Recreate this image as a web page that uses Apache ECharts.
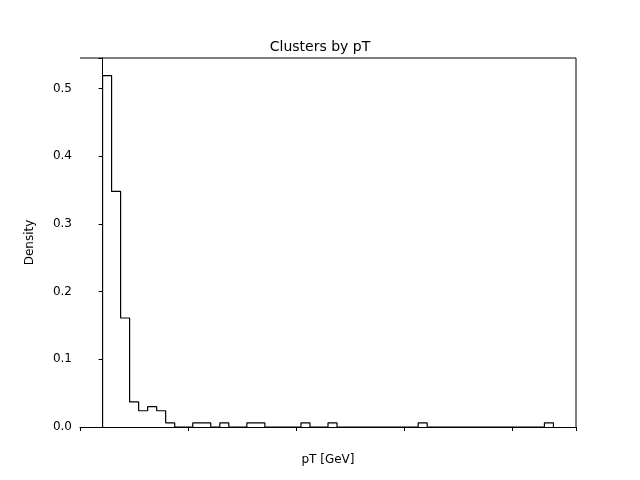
<!DOCTYPE html>
<html><head><meta charset="utf-8">
<script src="https://cdn.jsdelivr.net/npm/echarts@6/dist/echarts.min.js"></script>
<style>body{margin:0}#c{width:640px;height:480px}</style></head>
<body><div id="c"></div>
<script>
const binStart = 0;
const binWidth = 0.835;
const densities = [0.519,0.348,0.161,0.037,0.024,0.030,0.024,0.006,0,0,
0.006,0.006,0,0.006,0,0,0.006,0.006,0,0,
0,0,0.006,0,0,0.006,0,0,0,0,
0,0,0,0,0,0.006,0,0,0,0,
0,0,0,0,0,0,0,0,0,0.006];
const xTicks = [0,10,20,30,40];
const yTicks = [0,0.1,0.2,0.3,0.4,0.5];

const pts = [[binStart,0]];
densities.forEach((h,i)=>{
  pts.push([binStart+i*binWidth,h]);
  pts.push([binStart+(i+1)*binWidth,h]);
});
pts.push([binStart+densities.length*binWidth,0]);

const font = 'DejaVu Sans';
const chart = echarts.init(document.getElementById('c'));
chart.setOption({
  animation:false,
  title:{text:'Clusters by pT',left:'center',top:35,textStyle:{fontFamily:font,fontSize:14,fontWeight:'normal',color:'#000'}},
  grid:{left:80,right:64,top:58,bottom:53},
  xAxis:{type:'value',min:-2.09,max:43.84,interval:10,name:'pT [GeV]',nameLocation:'middle',nameGap:27,
    nameTextStyle:{fontFamily:font,fontSize:12,color:'#000'},
    axisLine:{onZero:false,lineStyle:{color:'#000'}},axisTick:{length:4,lineStyle:{color:'#000'}},
    axisLabel:{fontFamily:font,fontSize:12,color:'#000',formatter:v=>xTicks.includes(v)?String(v):''},
    splitLine:{show:false}},
  yAxis:{type:'value',min:0,max:0.545,interval:0.1,name:'Density',nameLocation:'middle',nameGap:44,
    nameTextStyle:{fontFamily:font,fontSize:12,color:'#000'},
    axisLine:{show:true,lineStyle:{color:'#000'}},axisTick:{show:true,length:4,lineStyle:{color:'#000'}},
    axisLabel:{fontFamily:font,fontSize:12,color:'#000',formatter:v=>{const t=yTicks.find(y=>Math.abs(y-v)<1e-9);return t===undefined?'':t.toFixed(1);}},
    splitLine:{show:false}},
  series:[{type:'line',data:pts,showSymbol:false,lineStyle:{color:'#000',width:1.2}}],
  graphic:[
    {type:'line',shape:{x1:80,y1:58,x2:576,y2:58},style:{stroke:'#000',lineWidth:1}},
    {type:'line',shape:{x1:576,y1:58,x2:576,y2:427},style:{stroke:'#000',lineWidth:1}}
  ]
});
</script></body></html>
